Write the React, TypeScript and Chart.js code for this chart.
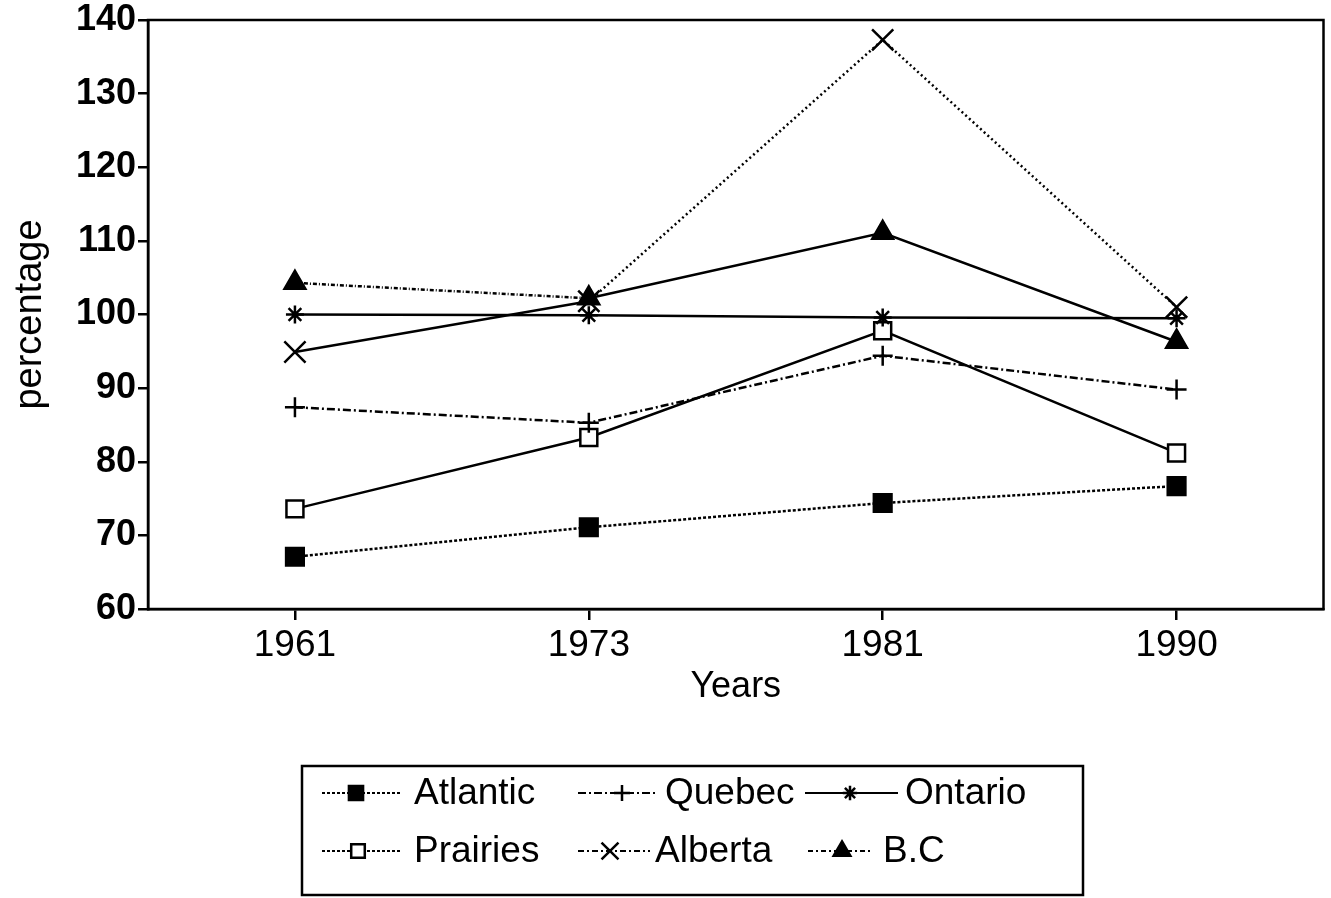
import React, { useEffect, useRef } from 'react';
import { Chart, registerables } from 'chart.js';
import { drawPoint } from 'chart.js/helpers';

Chart.register(...registerables);

const years = ['1961', '1973', '1981', '1990'];
const atlantic = [67.1, 71.1, 74.4, 76.7];
const quebec = [87.4, 85.3, 94.4, 89.8];
const ontario = [100, 99.9, 99.6, 99.5];
const prairies = [73.6, 83.3, 97.8, 81.2];
const alberta = [94.9, 101.8, 137.3, 101.0];
const bc = [104.3, 102.2, 111.1, 96.3];
const yMin = 60;
const yMax = 140;
const yStep = 10;

const FONT = "'Liberation Sans', Arial, Helvetica, sans-serif";

const framePlugin = {
  id: 'frame',
  beforeDatasetsDraw(chart: any) {
    const { ctx, chartArea } = chart;
    ctx.save();
    ctx.strokeStyle = '#000';
    ctx.lineWidth = 2.5;
    ctx.strokeRect(chartArea.left, chartArea.top, chartArea.right - chartArea.left, chartArea.bottom - chartArea.top);
    ctx.restore();
  },
};

// legend layout (positions only)
const legendLayout = [
  { x0: 322, x1: 400, mx: 356, tx: 414, y: 793, dash: [3, 2] },
  { x0: 578, x1: 655, mx: 622, tx: 665, y: 793, dash: [8, 3, 2, 3] },
  { x0: 805, x1: 898, mx: 850, tx: 905, y: 793, dash: [] },
  { x0: 322, x1: 400, mx: 358, tx: 414, y: 851, dash: [3, 2] },
  { x0: 578, x1: 650, mx: 610, tx: 655, y: 851, dash: [6, 3, 2, 3] },
  { x0: 808, x1: 870, mx: 842, tx: 883, y: 851, dash: [5, 3, 2, 3] },
];

const legendPlugin = {
  id: 'boxLegend',
  afterDraw(chart: any) {
    const ctx = chart.ctx;
    ctx.save();
    ctx.strokeStyle = '#000';
    ctx.lineWidth = 2.5;
    ctx.setLineDash([]);
    ctx.strokeRect(302, 766, 781, 129);
    chart.data.datasets.forEach((ds: any, i: number) => {
      const l = legendLayout[i];
      if (!l) return;
      ctx.save();
      ctx.strokeStyle = '#000';
      ctx.lineWidth = 2;
      ctx.setLineDash(l.dash);
      ctx.beginPath();
      ctx.moveTo(l.x0, l.y);
      ctx.lineTo(l.x1, l.y);
      ctx.stroke();
      ctx.setLineDash([]);
      ctx.fillStyle = ds.pointBackgroundColor;
      ctx.strokeStyle = '#000';
      ctx.lineWidth = 2.5;
      drawPoint(ctx, { pointStyle: ds.pointStyle, radius: ds.pointRadius * 0.8, rotation: 0, borderWidth: 2.5 }, l.mx, l.y);
      ctx.restore();
      ctx.fillStyle = '#000';
      ctx.font = `37px ${FONT}`;
      ctx.textBaseline = 'middle';
      ctx.textAlign = 'left';
      ctx.fillText(ds.label, l.tx, l.y + 1);
    });
    ctx.restore();
  },
};

export default function App() {
  const ref = useRef<HTMLCanvasElement>(null);
  useEffect(() => {
    if (!ref.current) return;
    const common = {
      borderColor: '#000',
      borderWidth: 2.5,
      pointBorderColor: '#000',
      pointBorderWidth: 2.5,
      tension: 0,
      fill: false,
    };
    const chart = new Chart(ref.current, {
      type: 'line',
      data: {
        labels: years,
        datasets: [
          { ...common, label: 'Atlantic', data: atlantic, borderDash: [3, 2], pointStyle: 'rect', pointRadius: 12.5, pointBackgroundColor: '#000' },
          { ...common, label: 'Quebec', data: quebec, borderDash: [8, 3, 2, 3], pointStyle: 'cross', pointRadius: 10, pointBackgroundColor: '#000' },
          { ...common, label: 'Ontario', data: ontario, pointStyle: 'star', pointRadius: 9, pointBackgroundColor: '#000' },
          { ...common, label: 'Prairies', data: prairies, pointStyle: 'rect', pointRadius: 12, pointBackgroundColor: '#fff' },
          {
            ...common, label: 'Alberta', data: alberta, pointStyle: 'crossRot', pointRadius: 15, pointBackgroundColor: '#000',
            segment: { borderDash: (c: any) => (c.p0DataIndex === 0 ? [] : [2, 3]) },
          },
          {
            ...common, label: 'B.C', data: bc, pointStyle: 'triangle', pointRadius: 12, pointBackgroundColor: '#000',
            segment: { borderDash: (c: any) => (c.p0DataIndex === 0 ? [4, 2, 1, 2] : []) },
          },
        ] as any,
      },
      options: {
        responsive: false,
        animation: false,
        layout: { padding: { left: 0, top: 20, right: 8, bottom: 189 } },
        plugins: { legend: { display: false }, tooltip: { enabled: false } },
        scales: {
          x: {
            type: 'category',
            offset: true,
            grid: { display: true, drawOnChartArea: false, drawTicks: true, tickLength: 11, lineWidth: 2.5, color: '#000' },
            border: { display: true, color: '#000', width: 2.5 },
            ticks: { color: '#000', font: { family: FONT, size: 37 }, padding: 4, maxRotation: 0 },
            title: { display: true, text: 'Years', color: '#000', font: { family: FONT, size: 36 }, padding: { top: 0, bottom: 0 } },
            afterFit: (s: any) => { s.height = 100; s.paddingLeft = 0; s.paddingRight = 0; },
          },
          y: {
            min: yMin,
            max: yMax,
            grid: { display: true, drawOnChartArea: false, drawTicks: true, tickLength: 10, lineWidth: 2.5, color: '#000' },
            border: { display: true, color: '#000', width: 2.5 },
            ticks: { stepSize: yStep, color: '#000', font: { family: FONT, size: 36, weight: 'bold' }, padding: 2 },
            title: { display: true, text: 'percentage', color: '#000', font: { family: FONT, size: 38 }, padding: { top: 8, bottom: 0 } },
            afterFit: (s: any) => { s.width = 148; s.paddingTop = 0; s.paddingBottom = 0; s.paddingLeft = 0; s.paddingRight = 0; },
          },
        },
      },
      plugins: [framePlugin, legendPlugin],
    });
    return () => chart.destroy();
  }, []);
  return (
    <div style={{ position: 'absolute', left: 0, top: 0, width: 1331, height: 898, background: '#fff', overflow: 'hidden' }}>
      <canvas ref={ref} width={1341} height={898} style={{ display: 'block' }} />
    </div>
  );
}
